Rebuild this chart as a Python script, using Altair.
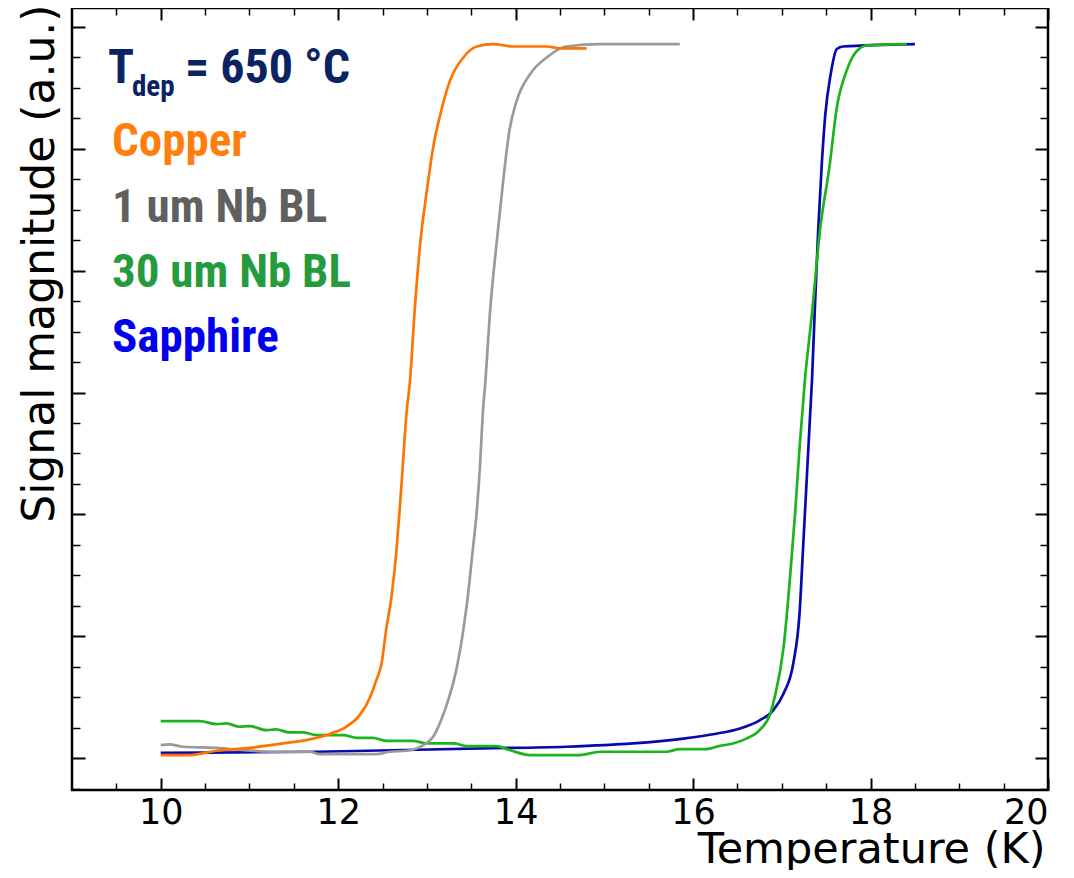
import altair as alt
import pandas as pd

# ---------------- data ----------------
copper_T = [10.0, 10.33, 10.63, 11.0, 11.38, 11.68, 11.91, 12.09, 12.24, 12.36, 12.43, 12.49,
            12.54, 12.60, 12.66, 12.69, 12.73, 12.77, 12.81, 12.86, 12.92, 13.0, 13.07, 13.15,
            13.26, 13.41, 13.56, 13.75, 13.97, 14.35, 14.50, 14.80]
copper_S = [0.025, 0.025, 0.06, 0.084, 0.12, 0.153, 0.20, 0.257, 0.35, 0.50, 0.64, 0.78,
            1.05, 1.32, 1.73, 2.01, 2.42, 2.83, 3.10, 3.65, 4.19, 4.66, 5.01, 5.28,
            5.56, 5.75, 5.84, 5.86, 5.84, 5.84, 5.825, 5.825]

nb1_T = [10.0, 10.10, 10.25, 10.63, 10.85, 11.30, 11.68, 11.79, 12.43, 12.58, 12.77, 12.96,
         13.07, 13.16, 13.24, 13.33, 13.41, 13.46, 13.52, 13.56, 13.60, 13.63, 13.66, 13.71,
         13.78, 13.86, 13.93, 14.01, 14.16, 14.35, 14.57, 14.95, 15.85]
nb1_S = [0.107, 0.112, 0.093, 0.084, 0.071, 0.052, 0.052, 0.033, 0.033, 0.052, 0.06, 0.107,
         0.175, 0.31, 0.475, 0.72, 1.05, 1.32, 1.73, 2.01, 2.42, 2.83, 3.10, 3.65,
         4.19, 4.74, 5.15, 5.39, 5.61, 5.75, 5.84, 5.86, 5.86]

nb30_T = [10.0, 10.44, 10.63, 10.74, 10.89, 11.0, 11.19, 11.30, 11.45, 11.60, 11.76, 12.06,
          12.21, 12.39, 12.54, 12.84, 13.0, 13.30, 13.45, 13.78, 13.93, 14.16, 14.72, 14.95,
          15.70, 15.85, 16.15, 16.30, 16.45, 16.60, 16.75, 16.87, 16.92, 17.02, 17.09, 17.15,
          17.20, 17.26, 17.34, 17.43, 17.54, 17.62, 17.73, 17.83, 17.96, 18.41]
nb30_S = [0.303, 0.303, 0.279, 0.284, 0.257, 0.262, 0.23, 0.235, 0.211, 0.211, 0.189, 0.189,
          0.166, 0.166, 0.142, 0.142, 0.12, 0.12, 0.098, 0.098, 0.066, 0.025, 0.025, 0.052,
          0.052, 0.074, 0.074, 0.10, 0.12, 0.16, 0.23, 0.366, 0.50, 0.91, 1.46, 2.01,
          2.55, 3.10, 3.65, 4.33, 4.87, 5.34, 5.64, 5.79, 5.85, 5.86]

sapph_T = [10.0, 11.76, 13.63, 14.57, 15.32, 15.89, 16.26, 16.53, 16.75, 16.90, 17.02, 17.13,
           17.20, 17.24, 17.28, 17.32, 17.34, 17.37, 17.41, 17.45, 17.49, 17.55, 17.62, 17.69,
           18.50]
sapph_S = [0.043, 0.052, 0.08, 0.093, 0.12, 0.16, 0.20, 0.243, 0.31, 0.39, 0.53, 0.78,
           1.19, 1.73, 2.28, 2.83, 3.10, 3.65, 4.33, 4.87, 5.28, 5.61, 5.82, 5.84,
           5.86]

series_names = ["Copper", "1 um Nb BL", "30 um Nb BL", "Sapphire"]
line_colors = ["#ff7400", "#9a9a9a", "#1cb41c", "#0808b0"]
text_colors = ["#ff7f0e", "#606060", "#249b3d", "#0000ee"]
tdep_main = "T"
tdep_sub = "dep"
tdep_rest = "= 650 °C"
tdep_color = "#0b2263"

x_title = "Temperature (K)"
y_title = "Signal magnitude (a.u.)"

x_major = [10, 12, 14, 16, 18, 20]
x_minor = [9.5, 10.5, 11, 11.5, 12.5, 13, 13.5, 14.5, 15, 15.5, 16.5, 17, 17.5, 18.5, 19, 19.5]
y_major = [0, 1, 2, 3, 4, 5, 6]
y_minor = [-0.25, 0.25, 0.5, 0.75, 1.25, 1.5, 1.75, 2.25, 2.5, 2.75, 3.25, 3.5, 3.75,
           4.25, 4.5, 4.75, 5.25, 5.5, 5.75]

# ---------------- chart ----------------
W, H = 976, 782
xscale = alt.Scale(domain=[9, 20], nice=False, zero=False)
yscale = alt.Scale(domain=[-0.262, 6.156], nice=False, zero=False)

dummy = pd.DataFrame({"T": [10.0], "S": [0.0]})

def tick_axis(orient, values, size, width):
    return alt.Axis(orient=orient, values=values, offset=-size, tickSize=size, tickWidth=width,
                    tickColor="black", ticks=True, labels=False, domain=False, grid=False, title="")

def axis_layer(xaxis, yaxis):
    return alt.Chart(dummy).mark_point(opacity=0).encode(
        x=alt.X("T:Q", scale=xscale, axis=xaxis),
        y=alt.Y("S:Q", scale=yscale, axis=yaxis),
    )

label_layer = axis_layer(
    alt.Axis(orient="bottom", values=x_major, ticks=False, tickSize=0, domain=False, grid=False,
             labelFontSize=35, labelFont="DejaVu Sans", labelColor="black", labelPadding=5,
             title=x_title, titleFont="DejaVu Sans", titleFontSize=43, titleFontWeight="normal",
             titleColor="black", titleX=W - 3, titleY=72, titleAlign="right",
             titleBaseline="alphabetic", titleAngle=0),
    alt.Axis(orient="left", values=y_major, ticks=False, tickSize=0, labels=False, domain=False,
             grid=False, title=y_title, titleFont="DejaVu Sans", titleFontSize=44,
             titleFontWeight="normal", titleColor="black", titleX=-19, titleY=-4,
             titleAngle=-90, titleAlign="right", titleBaseline="alphabetic"),
)

major_lb = axis_layer(tick_axis("bottom", x_major, 12, 2), tick_axis("left", y_major, 13, 2))
minor_lb = axis_layer(tick_axis("bottom", x_minor, 7, 1.5), tick_axis("left", y_minor, 8, 1.5))
major_tr = axis_layer(tick_axis("top", x_major, 12, 2), tick_axis("right", y_major, 13, 2))
minor_tr = axis_layer(tick_axis("top", x_minor, 7, 1.5), tick_axis("right", y_minor, 8, 1.5))

def line_layer(T, S, color):
    df = pd.DataFrame({"T": T, "S": S})
    return alt.Chart(df).mark_line(color=color, strokeWidth=2.7, interpolate="monotone").encode(
        x=alt.X("T:Q", scale=xscale, axis=None),
        y=alt.Y("S:Q", scale=yscale, axis=None),
        order="T:Q",
    )

lines = [
    line_layer(sapph_T, sapph_S, line_colors[3]),
    line_layer(nb30_T, nb30_S, line_colors[2]),
    line_layer(nb1_T, nb1_S, line_colors[1]),
    line_layer(copper_T, copper_S, line_colors[0]),
]

FONT = ("Noto Sans Condensed, Noto Sans Cond, Roboto Condensed, Open Sans Condensed, "
        "Liberation Sans Narrow, DejaVu Sans Condensed, sans-serif")

def text_layer(txt, color, x, y, size):
    return alt.Chart(pd.DataFrame({"label": [txt]})).mark_text(
        font=FONT, fontWeight="bold", fontSize=size, color=color, align="left",
        baseline="alphabetic",
    ).encode(text="label:N", x=alt.value(x), y=alt.value(y))

texts = [
    text_layer(tdep_main, tdep_color, 36, 75, 48),
    text_layer(tdep_sub, tdep_color, 60, 88, 29),
    text_layer(tdep_rest, tdep_color, 113, 75, 48),
]
baselines = [148, 214, 279, 344]
for name, col, b in zip(series_names, text_colors, baselines):
    texts.append(text_layer(name, col, 40, b, 47))

chart = alt.layer(
    label_layer, major_lb, minor_lb, major_tr, minor_tr, *lines, *texts
).resolve_axis(x="independent", y="independent").properties(
    width=W, height=H,
    autosize=alt.AutoSizeParams(type="none"),
    padding={"left": 64, "top": 0, "right": 18, "bottom": 80},
    background="white",
).configure_view(stroke="black", strokeWidth=2.5)

chart.save("out.html", embed_options={"renderer": "svg", "actions": False})
